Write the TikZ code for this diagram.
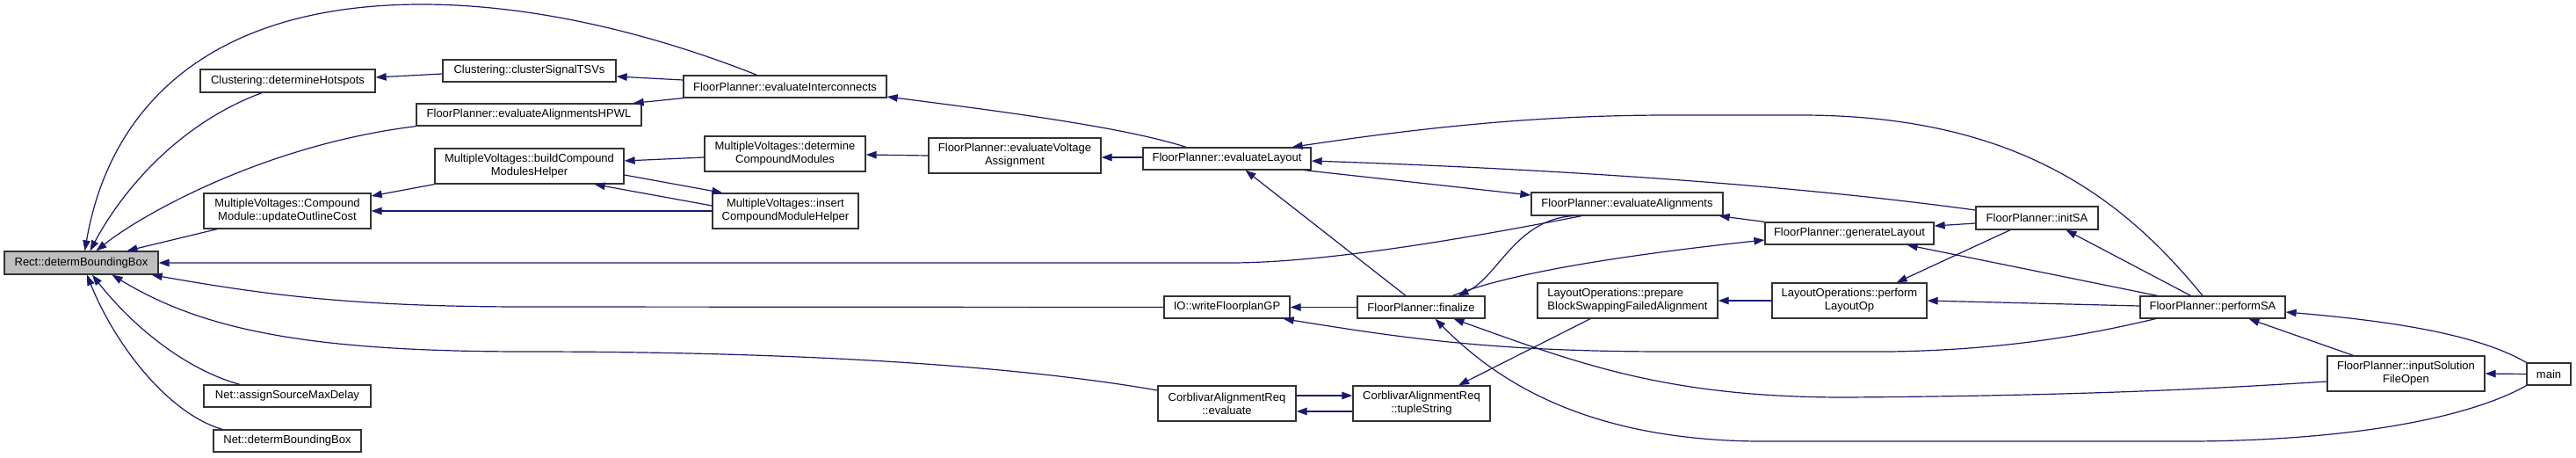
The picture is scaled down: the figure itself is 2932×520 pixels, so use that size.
\documentclass[tikz,border=0pt]{standalone}
\usepackage{fontspec}
\setmainfont{Liberation Sans}
\usetikzlibrary{arrows.meta}
\definecolor{edgec}{RGB}{25,25,112}
\definecolor{rootfill}{RGB}{191,191,191}
\begin{document}
\begin{tikzpicture}[x=1pt,y=-1pt,
  box/.style={draw=black!80, line width=1.3pt, fill=white, inner sep=0pt, align=center, font=\fontsize{13}{15}\selectfont},
  rootbox/.style={box, fill=rootfill},
  edge/.style={draw=edgec, line width=1.2pt, {Triangle[length=12pt,width=8.5pt]}-},
]
\fill[white] (0,0) rectangle (2932,520);
\useasboundingbox (0,0) rectangle (2932,520);

% nodes
\node[rootbox, minimum width=175pt, minimum height=26pt] (rect) at (92.5,299) {Rect::determBoundingBox};
\node[box, minimum width=199pt, minimum height=26pt] (hot) at (327.5,92) {Clustering::determineHotspots};
\node[box, minimum width=256pt, minimum height=25pt] (hpwl) at (602,130.5) {FloorPlanner::evaluateAlignmentsHPWL};
\node[box, minimum width=190pt, minimum height=40pt] (uoc) at (327,240) {MultipleVoltages::Compound\\Module::updateOutlineCost};
\node[box, minimum width=190pt, minimum height=25pt] (nasm) at (327,450.5) {Net::assignSourceMaxDelay};
\node[box, minimum width=168pt, minimum height=25pt] (ndbb) at (327,501.5) {Net::determBoundingBox};
\node[box, minimum width=197pt, minimum height=25pt] (cst) at (602.5,80.5) {Clustering::clusterSignalTSVs};
\node[box, minimum width=215pt, minimum height=40pt] (bcmh) at (602.5,189) {MultipleVoltages::buildCompound\\ModulesHelper};
\node[box, minimum width=231pt, minimum height=25pt] (eic) at (893.5,98.5) {FloorPlanner::evaluateInterconnects};
\node[box, minimum width=183pt, minimum height=40pt] (dcm) at (893.5,175) {MultipleVoltages::determine\\CompoundModules};
\node[box, minimum width=166pt, minimum height=40pt] (icmh) at (894,240) {MultipleVoltages::insert\\CompoundModuleHelper};
\node[box, minimum width=196pt, minimum height=40pt] (eva) at (1155,177) {FloorPlanner::evaluateVoltage\\Assignment};
\node[box, minimum width=191pt, minimum height=25pt] (el) at (1396.5,180.5) {FloorPlanner::evaluateLayout};
\node[box, minimum width=143pt, minimum height=25pt] (wfgp) at (1396.5,349.5) {IO::writeFloorplanGP};
\node[box, minimum width=157pt, minimum height=40pt] (cae) at (1396.5,459) {CorblivarAlignmentReq\\::evaluate};
\node[box, minimum width=145pt, minimum height=25pt] (fin) at (1617.5,349.5) {FloorPlanner::finalize};
\node[box, minimum width=156pt, minimum height=40pt] (cts) at (1618,459) {CorblivarAlignmentReq\\::tupleString};
\node[box, minimum width=218pt, minimum height=26pt] (ea) at (1852,232) {FloorPlanner::evaluateAlignments};
\node[box, align=left, minimum width=205pt, minimum height=40pt] (pbs) at (1852.5,342) {LayoutOperations::prepare\\BlockSwappingFailedAlignment};
\node[box, minimum width=192pt, minimum height=25pt] (gl) at (2105,265.5) {FloorPlanner::generateLayout};
\node[box, minimum width=176pt, minimum height=40pt] (plo) at (2105,342) {LayoutOperations::perform\\LayoutOp};
\node[box, minimum width=139pt, minimum height=26pt] (isa) at (2318.5,248) {FloorPlanner::initSA};
\node[box, minimum width=165pt, minimum height=25pt] (psa) at (2518.5,349.5) {FloorPlanner::performSA};
\node[box, minimum width=179pt, minimum height=40pt] (isfo) at (2738.5,425) {FloorPlanner::inputSolution\\FileOpen};
\node[box, minimum width=50pt, minimum height=25pt] (main) at (2901,425.5) {main};

% edges into Rect::determBoundingBox
\draw[edge] ([xshift=4pt]rect.north) .. controls (125,120) and (240,5) .. (480,5) .. controls (620,5) and (760,45) .. ([xshift=-32pt]eic.north);
\draw[edge] ([xshift=10pt]rect.north) .. controls (140,215) and (205,140) .. ([xshift=-29.5pt]hot.south);
\draw[edge] ([xshift=17pt]rect.north) .. controls (160,245) and (300,165) .. (hpwl.south west);
\draw[edge] ([xshift=52pt]rect.north) -- ([xshift=-80pt]uoc.south);
\draw[edge] (rect.east) -- (1400,299) .. controls (1500,299) and (1650,275) .. ([xshift=-52pt]ea.south);
\draw[edge] ([xshift=-8pt]rect.south east) .. controls (300,335) and (400,349) .. (600,349) -- (wfgp.west);
\draw[edge] ([xshift=35pt]rect.south) .. controls (230,375) and (350,400) .. (600,400) .. controls (950,400) and (1180,420) .. ([yshift=15pt]cae.west);
\draw[edge] ([xshift=12.5pt]rect.south) .. controls (150,370) and (210,420) .. ([xshift=-54pt]nasm.north);
\draw[edge] ([xshift=6.5pt]rect.south) .. controls (130,390) and (190,470) .. ([xshift=-74pt]ndbb.north);

% other edges
\draw[edge] ([yshift=4pt]hot.east) -- ([yshift=-3.5pt]cst.west);
\draw[edge] ([yshift=-6.5pt]cst.east) -- ([yshift=7.5pt]eic.west);
\draw[edge] ([xshift=-10pt]hpwl.north east) -- (eic.south west);
\draw[edge] ([yshift=-11.5pt]eic.east) .. controls (1150,128) and (1280,145) .. ([xshift=-46.5pt]el.north);
\draw[edge] ([yshift=17pt]uoc.east) -- (bcmh.south west);
\draw[edge] (uoc.east) -- (icmh.west);
\draw[edge] ([yshift=6pt]bcmh.east) -- ([yshift=-4pt]dcm.west);
\draw[edge] ([xshift=-34pt]bcmh.south east) -- ([yshift=6pt]icmh.west);
\draw[edge] ([xshift=12pt]icmh.north west) -- ([yshift=-10pt]bcmh.east);
\draw[edge] ([yshift=-1pt]dcm.east) -- (eva.west);
\draw[edge] ([yshift=-2pt]eva.east) -- ([yshift=1.5pt]el.west);
\draw[edge] ([xshift=-22pt]el.north east) .. controls (1620,145) and (1750,131) .. (1900,131) -- (2050,131) .. controls (2300,131) and (2420,230) .. ([xshift=-11.5pt]psa.north);
\draw[edge] ([yshift=-2.5pt]el.east) .. controls (1700,190) and (2000,205) .. ([yshift=9pt]isa.west);
\draw[edge] ([xshift=21pt]el.south) -- ([xshift=-17.5pt]fin.north);
\draw[edge] ([yshift=10pt]ea.west) -- ([xshift=-8pt]el.south east);
\draw[edge] ([xshift=-5pt]ea.south east) -- (gl.north west);
\draw[edge] ([xshift=42pt]fin.north) .. controls (1705,315) and (1725,250) .. ([xshift=-62pt]ea.south);
\draw[edge] ([yshift=-7.5pt]gl.west) .. controls (1850,290) and (1720,310) .. ([xshift=36pt]fin.north);
\draw[edge] (wfgp.east) -- (fin.west);
\draw[edge] ([xshift=-8pt]wfgp.south east) .. controls (1600,385) and (1700,400) .. (1900,400) -- (2150,400) .. controls (2300,398) and (2400,375) .. ([xshift=-65pt]psa.south);
\draw[edge] ([yshift=9pt]cts.west) -- ([yshift=9pt]cae.east);
\draw[edge] ([yshift=-9pt]cae.east) -- ([yshift=-9pt]cts.west);
\draw[edge] ([xshift=42pt]cts.north) -- ([xshift=-42.5pt]pbs.south);
\draw[edge] (pbs.east) -- (plo.west);
\draw[edge] ([xshift=-35pt]plo.north east) -- ([xshift=-30.5pt]isa.south);
\draw[edge] (plo.east) -- ([yshift=1.5pt]psa.west);
\draw[edge] ([yshift=8.5pt]gl.east) -- ([yshift=-6pt]isa.west);
\draw[edge] ([xshift=-31pt]gl.south east) -- ([xshift=-63pt]psa.north);
\draw[edge] ([xshift=33pt]isa.south) -- ([xshift=-25pt]psa.north);
\draw[edge] ([yshift=-5.5pt]psa.east) .. controls (2720,365) and (2820,380) .. (main.north west);
\draw[edge] ([xshift=41pt]psa.south) -- ([xshift=-60pt]isfo.north);
\draw[edge] (isfo.east) -- (main.west);
\draw[edge] ([xshift=37pt]fin.south) .. controls (1800,415) and (1900,452) .. (2100,452) .. controls (2400,450) and (2550,440) .. ([yshift=-9pt]isfo.west);
\draw[edge] ([xshift=16pt]fin.south) .. controls (1700,430) and (1800,500) .. (2000,502) -- (2500,502) .. controls (2700,500) and (2820,470) .. (main.south west);
\end{tikzpicture}
\end{document}
